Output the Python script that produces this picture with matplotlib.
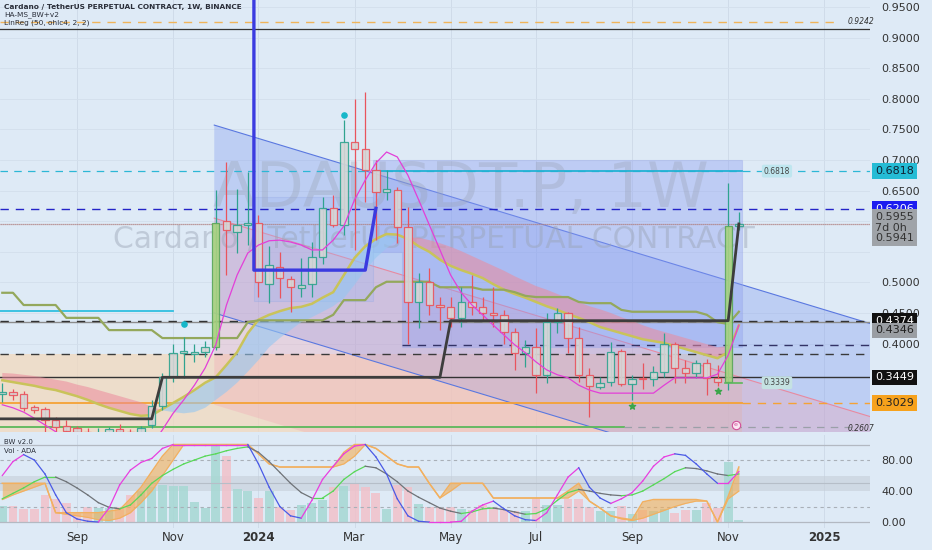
import numpy as np
import pandas as pd
import matplotlib
matplotlib.use("Agg")
import matplotlib.pyplot as plt
import matplotlib.dates as mdates
import matplotlib.transforms as mtrans
from matplotlib.patches import Polygon

# === weekly candles (ADAUSDT.P 1W) ===
weeks = pd.date_range("2023-07-17", periods=70, freq="7D")
opens = [0.317, 0.321, 0.318, 0.296, 0.293, 0.275, 0.265, 0.262, 0.255, 0.250,
         0.252, 0.260, 0.256, 0.250, 0.267, 0.298, 0.345, 0.385, 0.383, 0.387,
         0.395, 0.600, 0.583, 0.593, 0.597, 0.497, 0.525, 0.505, 0.490, 0.497,
         0.542, 0.622, 0.594, 0.730, 0.718, 0.684, 0.648, 0.651, 0.590, 0.468,
         0.500, 0.463, 0.460, 0.442, 0.468, 0.460, 0.450, 0.447, 0.419, 0.385,
         0.394, 0.349, 0.435, 0.450, 0.409, 0.349, 0.329, 0.337, 0.388, 0.334,
         0.344, 0.342, 0.354, 0.399, 0.360, 0.352, 0.368, 0.344, 0.337, 0.592]
highs = [0.336, 0.325, 0.322, 0.300, 0.297, 0.280, 0.275, 0.266, 0.262, 0.262,
         0.264, 0.268, 0.260, 0.265, 0.308, 0.352, 0.400, 0.410, 0.400, 0.405,
         0.651, 0.697, 0.652, 0.680, 0.610, 0.560, 0.550, 0.510, 0.540, 0.566,
         0.640, 0.643, 0.765, 0.800, 0.811, 0.700, 0.684, 0.656, 0.623, 0.515,
         0.524, 0.476, 0.476, 0.492, 0.512, 0.476, 0.492, 0.455, 0.425, 0.406,
         0.425, 0.450, 0.458, 0.452, 0.427, 0.360, 0.345, 0.402, 0.391, 0.349,
         0.368, 0.363, 0.418, 0.402, 0.373, 0.373, 0.375, 0.365, 0.662, 0.615]
lows = [0.305, 0.308, 0.290, 0.287, 0.250, 0.250, 0.248, 0.250, 0.240, 0.245,
        0.248, 0.250, 0.245, 0.248, 0.262, 0.292, 0.337, 0.343, 0.370, 0.378,
        0.390, 0.512, 0.548, 0.561, 0.476, 0.467, 0.475, 0.452, 0.476, 0.476,
        0.530, 0.590, 0.577, 0.553, 0.632, 0.570, 0.635, 0.565, 0.400, 0.425,
        0.447, 0.422, 0.427, 0.427, 0.447, 0.438, 0.427, 0.400, 0.357, 0.362,
        0.320, 0.336, 0.418, 0.385, 0.337, 0.280, 0.325, 0.330, 0.330, 0.308,
        0.325, 0.330, 0.345, 0.335, 0.335, 0.344, 0.316, 0.331, 0.324, 0.585]
closes = [0.321, 0.316, 0.295, 0.292, 0.275, 0.264, 0.257, 0.255, 0.250, 0.252,
          0.260, 0.255, 0.250, 0.262, 0.298, 0.345, 0.385, 0.388, 0.387, 0.395,
          0.597, 0.585, 0.594, 0.597, 0.500, 0.528, 0.507, 0.493, 0.495, 0.542,
          0.622, 0.594, 0.730, 0.718, 0.684, 0.648, 0.652, 0.590, 0.468, 0.500,
          0.463, 0.460, 0.442, 0.468, 0.460, 0.450, 0.447, 0.419, 0.385, 0.394,
          0.349, 0.435, 0.450, 0.409, 0.349, 0.330, 0.336, 0.386, 0.334, 0.342,
          0.342, 0.354, 0.399, 0.360, 0.352, 0.368, 0.344, 0.337, 0.592, 0.5955]
green_marked = [20, 68]  # breakout bars drawn with green body

# === indicator lines on price ===
ma_fast = [0.340, 0.337, 0.334, 0.331, 0.327, 0.324, 0.319, 0.314, 0.308, 0.301,
           0.295, 0.290, 0.285, 0.282, 0.283, 0.293, 0.303, 0.313, 0.324, 0.336,
           0.345, 0.365, 0.386, 0.417, 0.439, 0.447, 0.453, 0.458, 0.460, 0.465,
           0.475, 0.484, 0.512, 0.540, 0.559, 0.571, 0.579, 0.578, 0.571, 0.559,
           0.550, 0.537, 0.527, 0.520, 0.514, 0.507, 0.497, 0.488, 0.481, 0.475,
           0.468, 0.461, 0.455, 0.448, 0.442, 0.435, 0.427, 0.422, 0.417, 0.412,
           0.407, 0.404, 0.401, 0.396, 0.391, 0.386, 0.381, 0.376, 0.386, 0.430]
ma_slow = [0.352, 0.351, 0.349, 0.347, 0.344, 0.341, 0.338, 0.333, 0.329, 0.324,
           0.319, 0.314, 0.309, 0.304, 0.297, 0.291, 0.288, 0.286, 0.288, 0.295,
           0.308, 0.321, 0.336, 0.354, 0.373, 0.394, 0.409, 0.422, 0.435, 0.443,
           0.452, 0.461, 0.474, 0.496, 0.520, 0.540, 0.556, 0.569, 0.573, 0.573,
           0.569, 0.564, 0.558, 0.551, 0.543, 0.535, 0.527, 0.519, 0.510, 0.502,
           0.494, 0.488, 0.481, 0.474, 0.468, 0.461, 0.456, 0.450, 0.443, 0.437,
           0.430, 0.424, 0.419, 0.414, 0.409, 0.404, 0.399, 0.394, 0.396, 0.406]
kijun = [0.483, 0.483, 0.463, 0.463, 0.463, 0.463, 0.442, 0.442, 0.442, 0.442,
         0.422, 0.422, 0.422, 0.422, 0.422, 0.409, 0.409, 0.409, 0.409, 0.409,
         0.409, 0.409, 0.409, 0.435, 0.438, 0.438, 0.438, 0.438, 0.438, 0.438,
         0.438, 0.447, 0.471, 0.471, 0.471, 0.492, 0.501, 0.501, 0.501, 0.501,
         0.501, 0.492, 0.492, 0.492, 0.492, 0.488, 0.488, 0.488, 0.484, 0.478,
         0.476, 0.476, 0.476, 0.476, 0.468, 0.466, 0.466, 0.466, 0.455, 0.452,
         0.452, 0.452, 0.452, 0.452, 0.452, 0.452, 0.447, 0.435, 0.432, 0.452]
ha_line = [0.300, 0.295, 0.288, 0.278, 0.267, 0.256, 0.242, 0.226, 0.226, 0.226,
           0.226, 0.226, 0.226, 0.226, 0.234, 0.259, 0.286, 0.308, 0.332, 0.360,
           0.398, 0.463, 0.512, 0.548, 0.561, 0.568, 0.569, 0.566, 0.561, 0.553,
           0.553, 0.569, 0.592, 0.635, 0.667, 0.695, 0.713, 0.705, 0.675, 0.635,
           0.594, 0.553, 0.512, 0.483, 0.463, 0.447, 0.430, 0.414, 0.398, 0.385,
           0.370, 0.357, 0.349, 0.344, 0.332, 0.324, 0.319, 0.319, 0.319, 0.319,
           0.319, 0.319, 0.332, 0.344, 0.344, 0.344, 0.344, 0.350, 0.381, 0.430]

# stepped stop lines (vertices)
stop_dates = ["2023-07-10", "2023-10-23", "2023-10-30", "2024-04-29", "2024-05-06", "2024-11-04", "2024-11-11"]
stop_vals = [0.277, 0.277, 0.3449, 0.3449, 0.4374, 0.4374, 0.5955]
hams_dates = ["2023-12-29", "2023-12-29", "2024-03-11", "2024-03-18"]
hams_vals = [1.20, 0.520, 0.520, 0.621]

# channels (LinReg) start/end
chan_dates = ["2023-12-03", "2025-02-06"]
blue_up = [0.757, 0.432]
blue_lo = [0.450, 0.125]
pink_up = [0.605, 0.280]
pink_lo = [0.300, -0.025]

diamonds_d = ["2023-11-13", "2024-02-26"]
diamonds_v = [0.4325, 0.774]
stars_d = ["2024-09-02", "2024-10-28"]
stars_v = [0.298, 0.322]

# === BW v2.0 / volume panel ===
osc = [60, 78, 87, 80, 62, 35, 12, 4, 1, 0, 18, 48, 67, 77, 82, 95, 100, 100, 100, 100,
       100, 100, 100, 100, 75, 45, 20, 8, 5, 28, 55, 72, 88, 98, 100, 84, 62, 30, 8, 1,
       0, 0, 0, 1, 14, 22, 27, 17, 8, 3, 2, 12, 35, 58, 70, 45, 31, 24, 30, 38,
       53, 72, 84, 88, 86, 75, 62, 50, 50, 65]
signal = [30, 37, 44, 52, 58, 58, 52, 44, 35, 25, 19, 17, 22, 35, 50, 60, 68, 75, 80, 85,
          88, 92, 95, 97, 90, 78, 64, 50, 38, 31, 31, 40, 55, 65, 72, 70, 62, 52, 40, 32,
          25, 18, 14, 11, 13, 17, 18, 16, 13, 10, 11, 17, 28, 38, 42, 40, 37, 35, 34, 35,
          40, 48, 56, 65, 70, 69, 66, 62, 60, 62]
cloud_hi = [50, 50, 50, 50, 50, 12, 12, 12, 12, 12, 14, 16, 30, 45, 65, 85, 100, 100, 100, 100,
            100, 100, 100, 100, 88, 75, 71, 71, 71, 71, 71, 71, 90, 100, 100, 95, 85, 75, 71, 71,
            50, 31, 50, 50, 50, 50, 31, 31, 31, 31, 31, 31, 31, 40, 50, 27, 18, 8, 5, 3,
            26, 29, 29, 29, 29, 29, 27, 0, 33, 71]
cloud_lo = [29, 35, 40, 45, 50, 12, 10, 8, 6, 3, 2, 5, 12, 25, 40, 60, 80, 100, 100, 100,
            100, 100, 100, 100, 88, 75, 71, 71, 71, 71, 71, 71, 75, 85, 100, 95, 85, 75, 71, 71,
            50, 31, 40, 50, 50, 50, 31, 31, 31, 31, 31, 31, 31, 31, 40, 27, 18, 8, 4, 2,
            5, 10, 15, 20, 24, 27, 27, 0, 30, 40]
vol = [21, 21, 17, 17, 35, 30, 24, 12, 20, 18, 18, 20, 35, 40, 45, 48, 47, 46, 26, 18,
       100, 85, 42, 40, 31, 40, 20, 16, 22, 25, 28, 45, 47, 51, 45, 37, 17, 48, 45, 23,
       19, 20, 19, 17, 16, 22, 20, 15, 14, 14, 30, 22, 22, 30, 30, 20, 14, 14, 21, 10,
       16, 14, 17, 12, 15, 15, 24, 18, 77, 3]

month_ticks = ["2023-09-04", "2023-11-06", "2024-01-01", "2024-03-04", "2024-05-06",
               "2024-07-01", "2024-09-02", "2024-11-04", "2025-01-06"]
month_labels = ["Sep", "Nov", "2024", "Mar", "May", "Jul", "Sep", "Nov", "2025"]

# === figura ===
BG = "#deeaf6"
W, H = 932, 550
fig = plt.figure(figsize=(W / 100, H / 100), dpi=100)
fig.patch.set_facecolor(BG)


def px_axes(x0, y0, x1, y1):
    return fig.add_axes([x0 / W, 1 - y1 / H, (x1 - x0) / W, (y1 - y0) / H])


ax = px_axes(0, 0, 870, 432)
axi = px_axes(0, 435, 870, 528)

d = mdates.datestr2num
xw = mdates.date2num(weeks.to_pydatetime())
x0 = d("2023-09-04") - 50.5
x1 = d("2023-09-04") + 520
for a in (ax, axi):
    a.set_facecolor(BG)
    a.set_xlim(x0, x1)
    for s in a.spines.values():
        s.set_visible(False)
    for m in month_ticks:
        a.axvline(d(m), color="#cfdbe9", lw=0.7, zorder=0)

ax.set_ylim(0.2555, 0.9614)
ax.set_xticks([])
yt = np.arange(0.40, 0.951, 0.05)
ax.set_yticks(yt)
# 0.55 / 0.60 sit under the last-price tag, as on the original scale
ax.set_yticklabels(["" if abs(v - 0.55) < 1e-6 or abs(v - 0.60) < 1e-6 else "%.4f" % v for v in yt])
ax.yaxis.tick_right()
ax.tick_params(axis="y", length=0, pad=8, labelsize=8, labelcolor="#333333")
for v in yt:
    ax.axhline(v, color="#d3dfec", lw=0.6, zorder=0)

# zones and channels
ax.fill_between([x0, d("2024-11-13")], 0.2555, 0.383, color="#f3d9bd", alpha=0.75, zorder=1, lw=0)
cx = [d(s) for s in chan_dates]
ax.add_patch(Polygon([(cx[0], blue_up[0]), (cx[1], blue_up[1]), (cx[1], blue_lo[1]), (cx[0], blue_lo[0])],
                     closed=True, fc="#7b97ee", alpha=0.33, ec="none", zorder=1.2))
ax.plot(cx, blue_up, color="#5a78e0", lw=0.8, zorder=1.3)
ax.plot(cx, blue_lo, color="#5a78e0", lw=0.8, zorder=1.3)
ax.add_patch(Polygon([(cx[0], pink_up[0]), (cx[1], pink_up[1]), (cx[1], pink_lo[1]), (cx[0], pink_lo[0])],
                     closed=True, fc="#f2a3b4", alpha=0.32, ec="none", zorder=1.25))
ax.plot(cx, pink_up, color="#e88aa0", lw=0.8, zorder=1.3)

# range boxes
ax.add_patch(Polygon([(d("2024-03-16"), 0.70), (d("2024-11-13"), 0.70), (d("2024-11-13"), 0.395),
                      (d("2024-04-04"), 0.395), (d("2024-04-04"), 0.55), (d("2024-03-16"), 0.55)],
                     closed=True, fc="#8b9df2", alpha=0.38, ec="#9aa8e8", lw=0.8, zorder=1.4))
ax.add_patch(Polygon([(d("2023-12-29"), 0.64), (d("2024-03-16"), 0.64), (d("2024-03-16"), 0.47),
                      (d("2023-12-29"), 0.47)],
                     closed=True, fc="#9db4f0", alpha=0.3, ec="#8fa4e6", lw=0.8, zorder=1.4))

# watermark
ax.text(d("2024-05-13"), 0.651, "ADAUSDT.P, 1W", fontsize=45, color="#9aa3b5", alpha=0.35,
        ha="center", va="center", zorder=1.5)
ax.text(d("2024-04-25"), 0.570, "Cardano / TetherUS PERPETUAL CONTRACT", fontsize=21.5, color="#9aa3b5",
        alpha=0.45, ha="center", va="center", zorder=1.5)

# horizontal levels
ax.axhline(0.926, color="#f0b45a", lw=1, ls=(0, (6, 5)), zorder=2, xmax=0.96)
ax.axhline(0.914, color="#333333", lw=0.9, zorder=2)
ax.text(d("2025-01-30"), 0.926, "0.9242", fontsize=5.5, style="italic", color="#333", ha="center", va="center")
ax.axhline(0.6818, color="#2cb7d6", lw=0.9, ls=(0, (6, 5)), zorder=2)
ax.plot([d("2024-03-16"), d("2024-11-13")], [0.6818, 0.6818], color="#22b2d4", lw=1.3, zorder=2)
ax.text(d("2024-12-06"), 0.6818, "0.6818", fontsize=5.5, color="#444", ha="center", va="center", zorder=6,
        bbox=dict(boxstyle="round,pad=0.25", fc="#bfe6ef", ec="none"))
ax.axhline(0.6206, color="#2424c8", lw=1, ls=(0, (6, 5)), zorder=2)
ax.axhline(0.5955, color="#b08080", lw=0.9, ls=(0, (1, 0.6)), zorder=2)
ax.axhline(0.4346, color="#8c8c8c", lw=1, zorder=2)
ax.axhline(0.4374, color="#333333", lw=1, ls=(0, (6, 5)), zorder=2)
ax.plot([d("2024-04-04"), x1], [0.398, 0.398], color="#333366", lw=1, ls=(0, (6, 5)), zorder=2)
ax.axhline(0.383, color="#3a3a3a", lw=1, ls=(0, (6, 5)), zorder=2)
ax.axhline(0.3449, color="#333333", lw=1, zorder=2)
ax.plot([x0, d("2023-11-06")], [0.453, 0.453], color="#30bfe0", lw=1.3, zorder=2)
ax.plot([x0, d("2024-11-13")], [0.3029, 0.3029], color="#f5a235", lw=1.3, zorder=2)
ax.plot([d("2024-11-13"), x1], [0.3029, 0.3029], color="#f5a235", lw=1, ls=(0, (6, 5)), zorder=2)
ax.plot([x0, d("2024-08-28")], [0.2637, 0.2637], color="#5bb85b", lw=1.3, zorder=2)
ax.plot([d("2024-08-28"), d("2025-01-24")], [0.2637, 0.2637], color="#9aa0a8", lw=0.9, ls=(0, (6, 5)), zorder=2)
ax.text(d("2025-01-30"), 0.2617, "0.2607", fontsize=5.5, style="italic", color="#333", ha="center", va="center")
ax.plot([d("2024-11-02"), d("2024-11-13")], [0.336, 0.336], color="#5bb85b", lw=1.2, zorder=4)
ax.text(d("2024-12-06"), 0.336, "0.3339", fontsize=5.5, color="#444", ha="center", va="center", zorder=6,
        bbox=dict(boxstyle="round,pad=0.25", fc="#c5e2e2", ec="none"))

# MA ribbon
fast = np.array(ma_fast)
slow = np.array(ma_slow)
ax.fill_between(xw, fast, slow, where=fast >= slow, interpolate=True, color="#95c7f1", alpha=0.6, lw=0, zorder=2.2)
ax.fill_between(xw, fast, slow, where=fast < slow, interpolate=True, color="#ec8a9c", alpha=0.55, lw=0, zorder=2.2)
ax.plot(xw, ma_fast, color="#c9c35a", lw=1.8, zorder=2.4)
ax.plot(xw, kijun, color="#94a85c", lw=1.6, zorder=2.4)

# candles
wid = 4.8
for i in range(len(weeks)):
    o, h, l, c = opens[i], highs[i], lows[i], closes[i]
    col = "#2fa38f" if c >= o else "#e9545d"
    ax.vlines(xw[i], l, h, color=col, lw=0.9, zorder=3)
    lo_b, hi_b = min(o, c), max(o, c)
    hgt = max(hi_b - lo_b, 0.0025)
    fc = "#a9d27f" if i in green_marked else "#d6d6d6"
    ec = "#5aa65a" if i in green_marked else col
    ax.bar(xw[i], hgt, bottom=lo_b, width=wid, color=fc, alpha=0.9, edgecolor=ec, lw=0.9, zorder=3.1)

ax.plot(xw, ha_line, color="#e33fd8", lw=0.9, zorder=3.3)
ax.plot([d(s) for s in stop_dates], stop_vals, color="#3d3d3d", lw=2, zorder=3.4)
ax.plot([d(s) for s in hams_dates], hams_vals, color="#3b3be0", lw=2.4, zorder=3.5)
ax.scatter([d(s) for s in diamonds_d], diamonds_v, s=14, marker="o", color="#16b7c9", zorder=4)
ax.scatter([d(s) for s in stars_d], stars_v, s=22, marker="*", color="#3aa64a", zorder=4)
ax.plot(d("2024-11-09"), 0.267, "o", ms=6, mfc="#fbe6f2", mec="#d04f9a", mew=0.8, zorder=5)
ax.text(d("2024-11-09"), 0.267, "e", fontsize=4.5, color="#d04f9a", ha="center", va="center", zorder=6)

# price labels on the scale
tr = mtrans.blended_transform_factory(ax.transAxes, ax.transData)


def tag(y, txt, fc, tc):
    ax.text(1.006, y, txt, transform=tr, fontsize=8, color=tc, ha="left", va="center", zorder=10,
            clip_on=False, bbox=dict(boxstyle="square,pad=0.25", fc=fc, ec="none"))


tag(0.6818, "0.6818", "#25bcd5", "#123")
tag(0.6206, "0.6206", "#1c1cf0", "white")
ax.text(1.006, 0.6145, "0.5955\n7d 0h\n0.5941", transform=tr, fontsize=8, color="#333", ha="left", va="top",
        zorder=10, clip_on=False, linespacing=1.05,
        bbox=dict(boxstyle="square,pad=0.3", fc="#9fa3a8", ec="none"))
tag(0.4368, "0.4374", "#111111", "white")
tag(0.4346 - 0.013, "0.4346", "#9a9ea3", "#222")
tag(0.3449, "0.3449", "#111111", "white")
tag(0.3029, "0.3029", "#f7a21c", "#222")

fig.text(4 / W, 1 - 7 / H, "Cardano / TetherUS PERPETUAL CONTRACT, 1W, BINANCE", fontsize=5.3,
         fontweight="bold", color="#2a2e39", va="center")
fig.text(4 / W, 1 - 15 / H, "HA-MS_BW+v2", fontsize=5.3, color="#2a2e39", va="center")
fig.text(4 / W, 1 - 23 / H, "LinReg (50, ohlc4, 2, 2)", fontsize=5.3, color="#2a2e39", va="center")

# === indicator panel ===
axi.set_ylim(-7.7, 112.3)
axi.axhline(100, color="#b3b9c2", lw=0.9)
axi.axhline(80, color="#a9b0b8", lw=0.8, ls=(0, (3, 3)))
axi.axhspan(40, 60, color="#c6ced8", alpha=0.6, lw=0)
axi.axhline(50, color="#b6bec8", lw=0.8)
axi.axhline(20, color="#a9b0b8", lw=0.8, ls=(0, (3, 3)))
axi.axhline(0, color="#b3b9c2", lw=0.9)
vcol = ["#a6d8d3" if closes[i] >= opens[i] else "#f1c1ca" for i in range(len(weeks))]
axi.bar(xw, vol, width=5.8, color=vcol, alpha=0.85, lw=0, zorder=1)
hi = np.array(cloud_hi)
lo = np.array(cloud_lo)
axi.fill_between(xw, lo, hi, color="#f3ae56", alpha=0.6, lw=0, zorder=2)
axi.plot(xw, cloud_hi, color="#f2b060", lw=1.1, zorder=2.1)
axi.plot(xw, cloud_lo, color="#f2b060", lw=0.8, zorder=2.1)
for i in range(1, len(weeks)):
    c1 = "#58d858" if signal[i] >= signal[i - 1] else "#6f7378"
    axi.plot(xw[i - 1:i + 1], signal[i - 1:i + 1], color=c1, lw=0.9, zorder=3)
    c2 = "#e83ee0" if osc[i] >= osc[i - 1] else "#4a5ae6"
    axi.plot(xw[i - 1:i + 1], osc[i - 1:i + 1], color=c2, lw=0.9, zorder=3.1)

axi.set_yticks([0, 40, 80])
axi.set_yticklabels(["0.00", "40.00", "80.00"])
axi.yaxis.tick_right()
axi.tick_params(axis="y", length=0, pad=8, labelsize=8, labelcolor="#333333")
axi.set_xticks([d(m) for m in month_ticks])
axi.set_xticklabels(month_labels)
axi.tick_params(axis="x", length=0, pad=2, labelsize=8.5, labelcolor="#333333")
for lab in axi.get_xticklabels():
    if lab.get_text() in ("2024", "2025"):
        lab.set_fontweight("bold")
axi.text(0.005, 0.96, "BW v2.0", transform=axi.transAxes, fontsize=5, color="#2a2e39", va="top")
axi.text(0.005, 0.86, "Vol \u00b7 ADA", transform=axi.transAxes, fontsize=5, color="#2a2e39", va="top")

fig.savefig("out.png", dpi=100, facecolor=BG)
